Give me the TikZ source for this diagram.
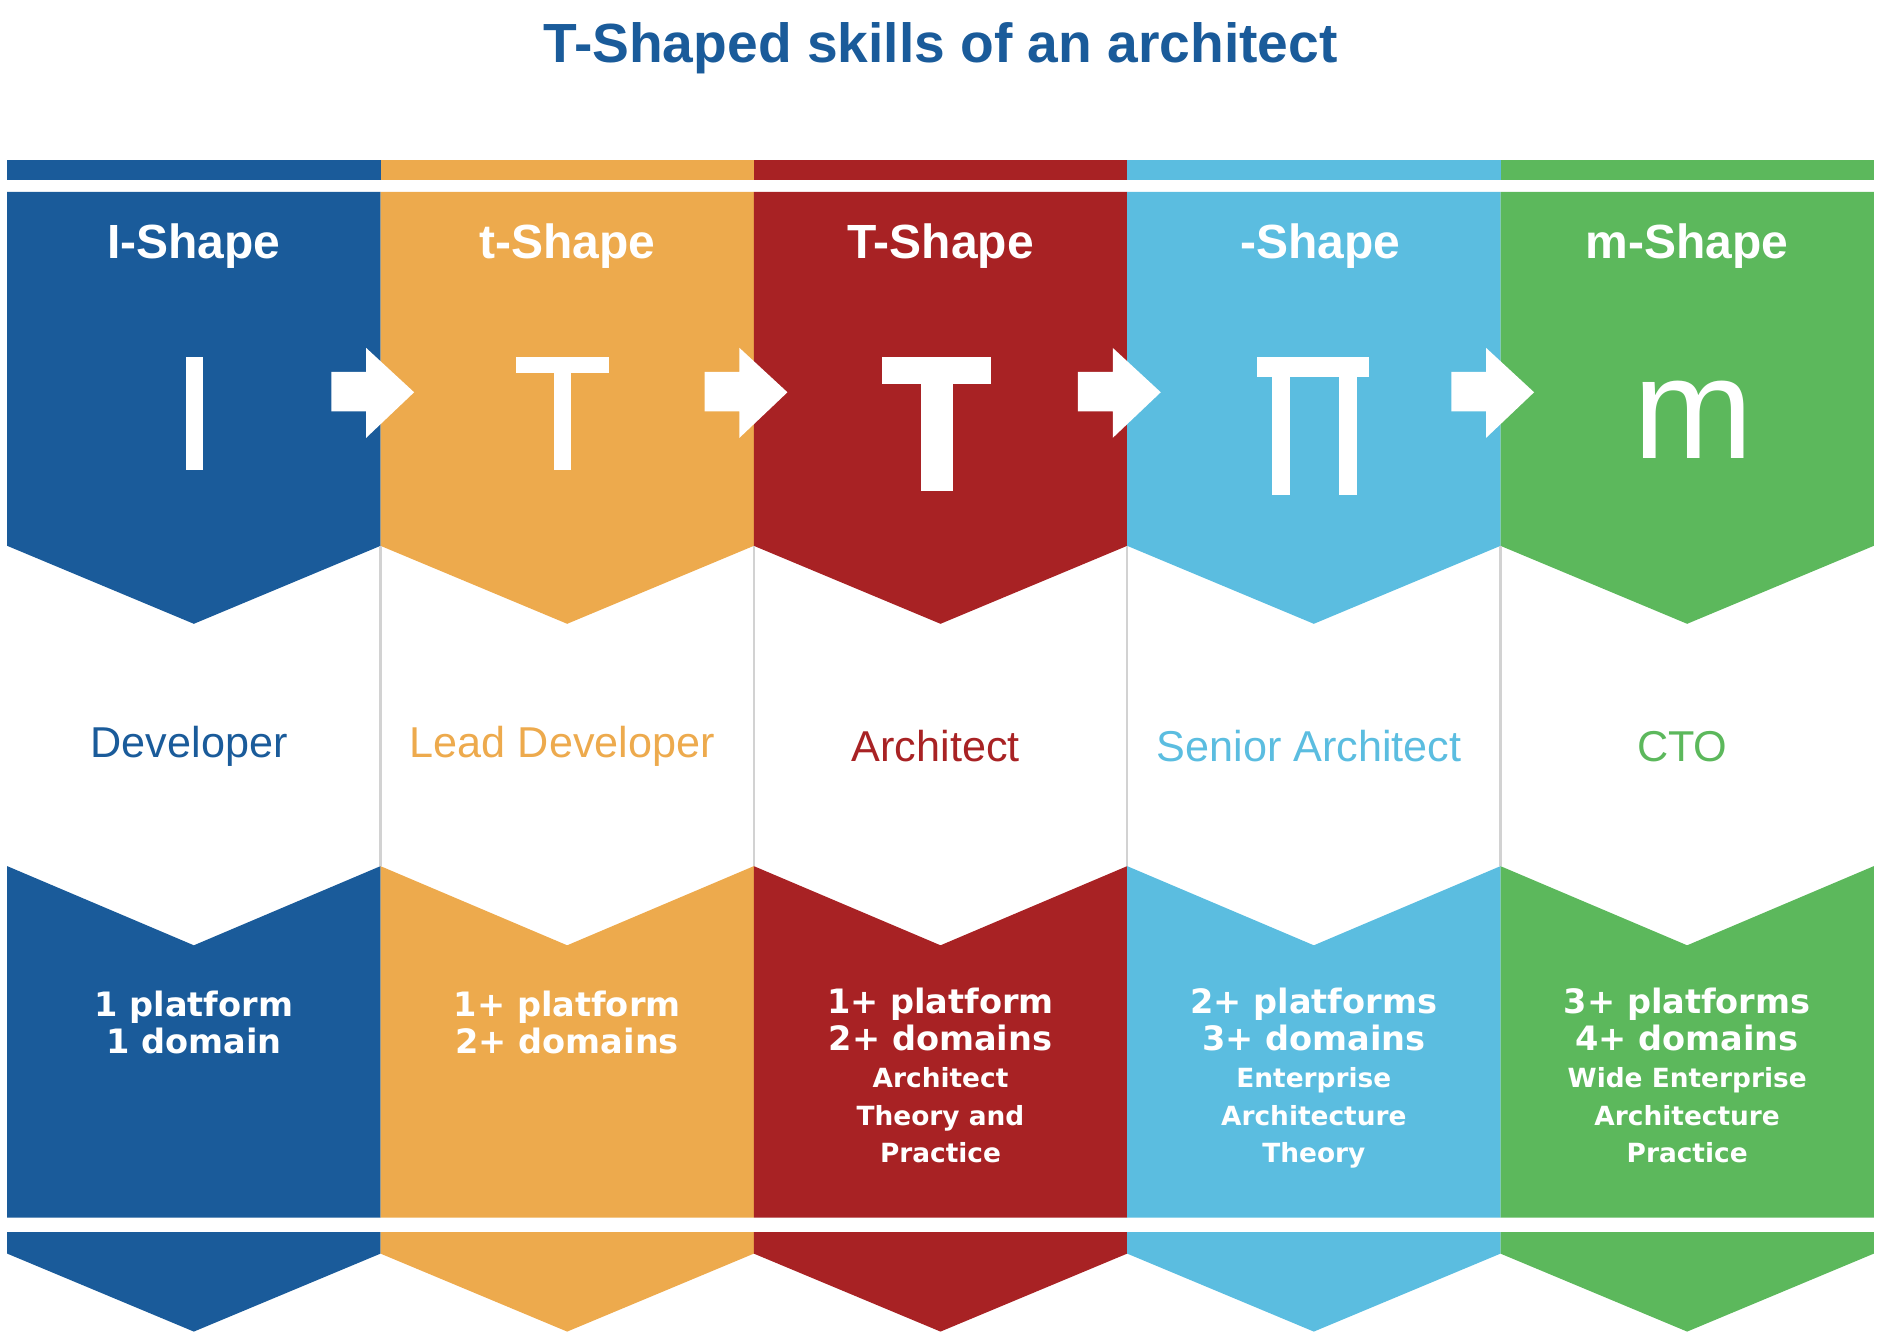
\documentclass[tikz,border=0pt]{standalone}
\usepackage{fontspec}
\setmainfont{Liberation Sans}
\newfontfamily\vfont{DejaVu Sans}
\newcommand\bgt{\vfont\bfseries\fontsize{28}{31}\selectfont}
\definecolor{cA}{HTML}{1A5B9A}
\definecolor{cB}{HTML}{EDAA4D}
\definecolor{cC}{HTML}{A82224}
\definecolor{cD}{HTML}{5BBDE0}
\definecolor{cE}{HTML}{5CB85C}
\begin{document}
\begin{tikzpicture}[x=1pt,y=-1pt,
  head/.style={text=white,font=\fontsize{40}{44}\selectfont\bfseries},
  role/.style={font=\fontsize{36}{40}\selectfont},
  info/.style={text=white,align=center,font=\vfont\bfseries\fontsize{22}{31}\selectfont},
  arr/.style={fill=white}]
\useasboundingbox (0,0) rectangle (1568,1111);
\node[text=cA,font=\fontsize{46}{50}\selectfont\bfseries] (title) at (784,40) {T-Shaped skills of an architect};
\foreach \i/\c/\h/\r in {0/cA/I-Shape/Developer,1/cB/t-Shape/Lead Developer,2/cC/T-Shape/Architect,3/cD/$\mathsf{\Pi}$-Shape/Senior Architect,4/cE/m-Shape/CTO}{
  \pgfmathsetmacro\xl{6+311.2*\i}
  \pgfmathsetmacro\xr{\xl+311.2}
  \pgfmathsetmacro\xm{\xl+155.6}
  \fill[\c] (\xl,133) rectangle (\xr,150);
  \fill[\c] (\xl,160) -- (\xr,160) -- (\xr,455) -- (\xm,520) -- (\xl,455) -- cycle;
  \fill[\c] (\xl,722) -- (\xm,788) -- (\xr,722) -- (\xr,1015) -- (\xl,1015) -- cycle;
  \fill[\c] (\xl,1027) -- (\xr,1027) -- (\xr,1045) -- (\xm,1110) -- (\xl,1045) -- cycle;
  \node[head] (h\i) at (\xm,205) {\h};
  \node[role,text=\c] (r\i) at (\xm-4,622) {\r};
}
\foreach \i in {1,2,3,4}{
  \pgfmathsetmacro\xb{6+311.2*\i}
  \draw[gray!35,line width=2] (\xb,455) -- (\xb,722);
  \fill[arr] (\xb-41,310) -- (\xb-12,310) -- (\xb-12,290) -- (\xb+28,327) -- (\xb-12,365) -- (\xb-12,343) -- (\xb-41,343) -- cycle;
}
\fill[white] (155,298) rectangle (169,392);
\fill[white] (430,298) rectangle (508,311); \fill[white] (462,298) rectangle (476,392);
\fill[white] (735,298) rectangle (826,320); \fill[white] (768,298) rectangle (794,409);
\fill[white] (1048,298) rectangle (1141,314); \fill[white] (1060,298) rectangle (1075,413); \fill[white] (1116,298) rectangle (1131,413);
\node[text=white,font=\fontsize{120}{120}\selectfont] (gm) at (1412,350) {m};
\node[info] (t0) at (161.6,852) {{\bgt 1 platform}\\{\bgt 1 domain}};
\node[info] (t1) at (472.8,852) {{\bgt 1+ platform}\\{\bgt 2+ domains}};
\node[info,anchor=north] (t2) at (784,820) {{\bgt 1+ platform}\\{\bgt 2+ domains}\\Architect\\Theory and\\Practice};
\node[info,anchor=north] (t3) at (1095.2,820) {{\bgt 2+ platforms}\\{\bgt 3+ domains}\\Enterprise\\Architecture\\Theory};
\node[info,anchor=north] (t4) at (1406.4,820) {{\bgt 3+ platforms}\\{\bgt 4+ domains}\\Wide Enterprise\\Architecture\\Practice};
\end{tikzpicture}
\end{document}
